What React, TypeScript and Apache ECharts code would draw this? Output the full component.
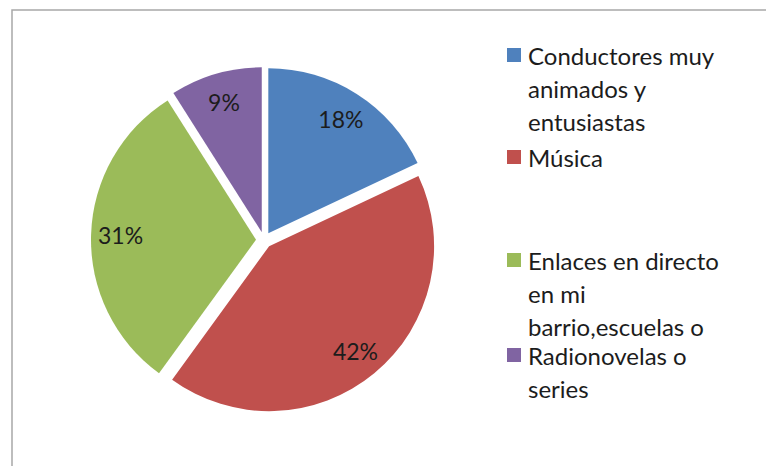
import React, { useEffect, useRef } from "react";
import * as echarts from "echarts";

const categories = [
  "Conductores muy animados y entusiastas",
  "Música",
  "Enlaces en directo en mi barrio,escuelas o",
  "Radionovelas o series",
];
const legendLines = [
  ["Conductores muy", "animados y", "entusiastas"],
  ["Música"],
  ["Enlaces en directo", "en mi", "barrio,escuelas o"],
  ["Radionovelas o", "series"],
];
const values = [18, 42, 31, 9];
const colors = ["#4F81BD", "#C0504D", "#9BBB59", "#8064A2"];

export default function App() {
  const ref = useRef<HTMLDivElement>(null);
  useEffect(() => {
    if (!ref.current) return;
    const chart = echarts.init(ref.current, null, { renderer: "svg" });
    const font = "Lato, 'Open Sans', sans-serif";
    const textColor = "#1c1c1c";
    const center = [264, 240];
    const R = 165;
    const data = categories.map((name, i) => ({
      name,
      value: values[i],
      selected: true,
      itemStyle: { color: colors[i] },
    }));
    const legendTop = [55, 157, 260, 355];
    const lineH = 33;
    const legendGraphics: any[] = [];
    legendLines.forEach((lines, i) => {
      legendGraphics.push({
        type: "rect",
        shape: { x: 507, y: legendTop[i] - 7, width: 14, height: 14 },
        style: { fill: colors[i] },
      });
      lines.forEach((ln, j) => {
        legendGraphics.push({
          type: "text",
          x: 528,
          y: legendTop[i] + j * lineH,
          style: {
            text: ln,
            fill: textColor,
            font: `24px ${font}`,
            textVerticalAlign: "middle",
            verticalAlign: "middle",
          },
        });
      });
    });
    chart.setOption({
      animation: false,
      backgroundColor: "#ffffff",
      graphic: [
        {
          type: "rect",
          shape: { x: 12, y: 10, width: 820, height: 520 },
          style: { fill: "none", stroke: "#a8a8a8", lineWidth: 1.5 },
        },
        ...legendGraphics,
      ],
      series: [
        {
          type: "pie",
          center,
          radius: [0, R],
          startAngle: 90,
          clockwise: true,
          selectedMode: "multiple",
          selectedOffset: 8,
          silent: true,
          label: { show: false },
          labelLine: { show: false },
          emphasis: { disabled: true },
          select: { itemStyle: {} },
          data,
        },
        {
          type: "pie",
          center,
          radius: [100, R],
          startAngle: 90,
          clockwise: true,
          selectedMode: "multiple",
          selectedOffset: 8,
          silent: true,
          itemStyle: { color: "rgba(0,0,0,0)" },
          emphasis: { disabled: true },
          label: {
            show: true,
            position: "inside",
            formatter: "{c}%",
            color: textColor,
            fontFamily: font,
            fontSize: 23,
          },
          select: { label: { color: textColor } },
          labelLine: { show: false },
          data: categories.map((name, i) => ({
            name,
            value: values[i],
            selected: true,
            itemStyle: { color: "rgba(0,0,0,0)" },
          })),
        },
      ],
    });
    return () => chart.dispose();
  }, []);
  return (
    <div
      ref={ref}
      style={{ position: "fixed", left: 0, top: 0, width: 766, height: 466 }}
    />
  );
}
